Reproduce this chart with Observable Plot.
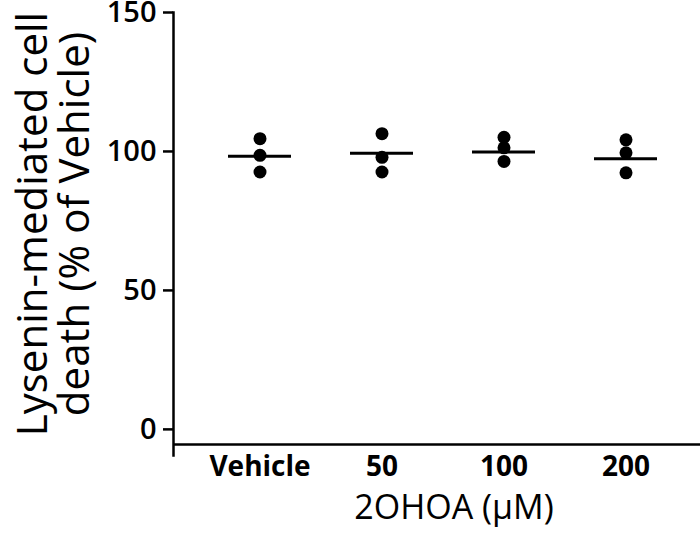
<!DOCTYPE html>
<html>
<head>
<meta charset="utf-8">
<script src="https://cdn.jsdelivr.net/npm/d3@7"></script>
<script src="https://cdn.jsdelivr.net/npm/@observablehq/plot@0.6"></script>
<style>
  html, body { margin: 0; padding: 0; background: #fff; }
</style>
</head>
<body>
<div id="chart"></div>
<script>
// Categories (x) and tick labels
const categories = ["Vehicle", "50", "100", "200"];
const yTicks = [0, 50, 100, 150];

// Individual replicate values (% of Vehicle)
const vehicleValues = [104.6, 98.6, 92.6];
const dose50Values = [106.4, 97.9, 92.6];
const dose100Values = [105.1, 101.3, 96.4];
const dose200Values = [104.2, 99.5, 92.3];

// Mean lines
const meanValues = [98.3, 99.4, 99.8, 97.4];

const yTitle = "Lysenin-mediated cell\ndeath (% of Vehicle)";
const xTitle = "2OHOA (\u03BCM)";

const groups = [vehicleValues, dose50Values, dose100Values, dose200Values];
const points = groups.flatMap((vals, i) => vals.map(v => ({group: categories[i], value: v})));
const means = categories.map((c, i) => ({group: c, value: meanValues[i]}));

const chart = Plot.plot({
  width: 700,
  height: 543,
  marginTop: 12,
  marginBottom: 88,
  marginLeft: 173,
  marginRight: 0,
  style: {fontFamily: "'Open Sans', sans-serif", background: "#fff", color: "#000", overflow: "visible"},
  x: {type: "band", domain: categories, range: [167, 718], padding: 0.48},
  y: {domain: [-9.4, 150]},
  marks: [
    Plot.frame({anchor: "left", stroke: "#000", strokeWidth: 2.5}),
    Plot.ruleY([-5.4], {stroke: "#000", strokeWidth: 2.5}),
    Plot.axisY({ticks: yTicks, tickSize: 10, tickPadding: 7, strokeWidth: 2.5, fontSize: 29, fontWeight: 600, label: null}),
    Plot.axisX({tickSize: 0, tickPadding: 1, fontSize: 28, fontWeight: 700, label: null}),
    Plot.tickY(means, {x: "group", y: "value", stroke: "#000", strokeWidth: 3}),
    Plot.dot(points, {x: "group", y: "value", r: 6.5, fill: "#000", stroke: "none"}),
    Plot.text([yTitle], {frameAnchor: "left", textAnchor: "middle", rotate: -90, dx: -119, dy: -10, fontSize: 42, lineHeight: 1.0, fill: "#000"}),
    Plot.text([xTitle], {frameAnchor: "bottom", dx: 17, dy: 63, fontSize: 34, fill: "#000"})
  ]
});
document.getElementById("chart").appendChild(chart);
</script>
</body>
</html>
